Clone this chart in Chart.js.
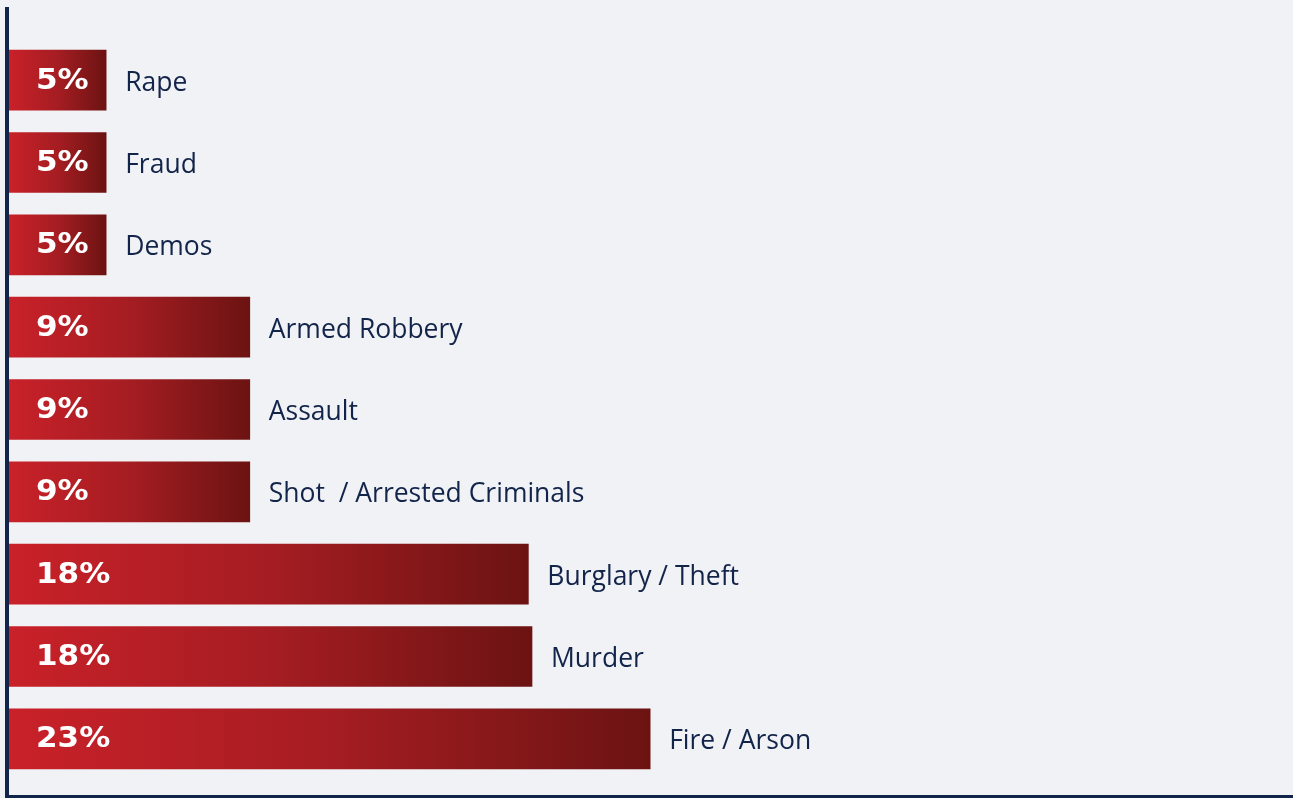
<!DOCTYPE html>
<html>
<head>
<meta charset="utf-8">
<script src="https://cdn.jsdelivr.net/npm/chart.js@4.4.0/dist/chart.umd.min.js"></script>
<style>
  html, body { margin: 0; padding: 0; background: #f1f2f5; }
  #crime-canvas { display: block; }
</style>
</head>
<body>
<canvas id="crime-canvas" width="1293" height="798"></canvas>
<script>
const categories = [
    'Rape', 'Fraud', 'Demos',
    'Armed Robbery', 'Assault', 'Shot  / Arrested Criminals',
    'Burglary / Theft', 'Murder', 'Fire / Arson'
];

// bar lengths as drawn (not strictly proportional to the printed shares)
const barValues = [3.47, 3.47, 3.47, 8.6, 8.6, 8.6, 18.55, 18.68, 22.9];

const shareLabels = ['5%', '5%', '5%', '9%', '9%', '9%', '18%', '18%', '23%'];

const navy = '#13244a';

function barGradient(context) {
    const chart = context.chart;
    const area = chart.chartArea;
    if (!area || context.dataIndex === undefined) return '#c3202a';
    const xScale = chart.scales.x;
    const x0 = xScale.getPixelForValue(0);
    const x1 = xScale.getPixelForValue(barValues[context.dataIndex]);
    const g = chart.ctx.createLinearGradient(x0, 0, x1, 0);
    g.addColorStop(0, '#c92129');
    g.addColorStop(0.5, '#a51d22');
    g.addColorStop(1, '#6c1312');
    return g;
}

const axisLines = {
    id: 'axisLines',
    beforeDatasetsDraw(chart) {
        const ctx = chart.ctx;
        ctx.save();
        ctx.fillStyle = navy;
        ctx.fillRect(5, 7, 4, 791);
        ctx.fillRect(5, 795, chart.width - 5, 3);
        ctx.restore();
    }
};

const barText = {
    id: 'barText',
    afterDatasetsDraw(chart) {
        const ctx = chart.ctx;
        const meta = chart.getDatasetMeta(0);
        ctx.save();
        ctx.textBaseline = 'middle';
        meta.data.forEach((bar, i) => {
            // share inside the bar
            ctx.save();
            ctx.fillStyle = '#ffffff';
            ctx.font = 'bold 29px "DejaVu Sans"';
            ctx.translate(chart.chartArea.left + 27, bar.y + 1);
            ctx.scale(1.07, 1);
            ctx.fillText(shareLabels[i], 0, 0);
            ctx.restore();

            // category to the right
            ctx.fillStyle = navy;
            ctx.font = '26.5px "Open Sans"';
            ctx.fillText(categories[i], bar.x + 19, bar.y + 3);
        });
        ctx.restore();
    }
};

const data = {
    labels: categories,
    datasets: [{
        label: 'Share of incidents',
        data: barValues,
        backgroundColor: barGradient,
        borderWidth: 0,
        barThickness: 60
    }]
};

const config = {
    type: 'bar',
    data,
    options: {
        indexAxis: 'y',
        responsive: false,
        animation: false,
        layout: {
            padding: { top: 39, bottom: 18, left: 9, right: 0 }
        },
        scales: {
            x: { display: false, min: 0, max: 45.86 },
            y: { display: false }
        },
        plugins: {
            legend: { display: false },
            tooltip: { enabled: false }
        }
    },
    plugins: [axisLines, barText]
};

const crimeChart = new Chart(
    document.getElementById('crime-canvas'),
    config
);
</script>
</body>
</html>
